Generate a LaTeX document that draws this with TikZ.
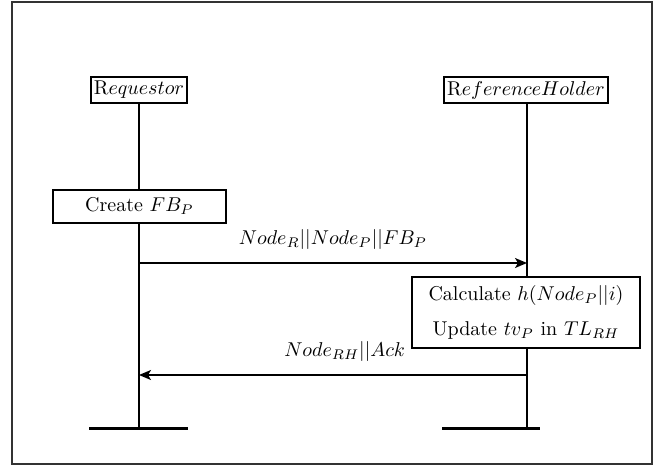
\documentclass[tikz,border=0pt]{standalone}
\usetikzlibrary{positioning,arrows.meta}

\begin{document}
\begin{tikzpicture}[x=0.5pt,y=-0.5pt,
    actor/.style={draw,line width=1pt,inner sep=1.5pt,minimum height=13pt},
    task/.style={draw,line width=1pt,align=center},
    life/.style={line width=1.4pt},
    bar/.style={line width=1.5pt},
    msg/.style={line width=0.8pt,-{Stealth[length=6pt,width=5pt,inset=1.5pt]}}]
    \useasboundingbox (0,0) rectangle (665,471);
    \draw[black!80,line width=1.1pt] (12,2) rectangle (652,464);

    % participants
    \node[actor] (req) at (139,90) {R$equestor$};
    \node[actor] (rh) at (526,90) {R$eferenceHolder$};

    % activities
    \node[task,minimum width=86.5pt,minimum height=16.5pt] (create) at (139.5,206) {Create $FB_P$};
    \node[task,minimum width=114pt,minimum height=35.5pt] (calc) at (526,312)
        {Calculate $h(Node_P||i)$\\[5.5pt] Update $tv_P$ in $TL_{RH}$};

    % lifelines
    \coordinate (reqend) at (139,428);
    \coordinate (rhend) at (527,428);
    \draw[life] (req.south -| reqend) -- (create.north -| reqend);
    \draw[life] (create.south -| reqend) -- (reqend);
    \draw[life] (rh.south -| rhend) -- (calc.north -| rhend);
    \draw[life] (calc.south -| rhend) -- (rhend);
    \draw[bar] (89,428) -- (188,428);
    \draw[bar] (442,428) -- (540,428);

    % messages
    \coordinate (m1s) at (139,263);
    \coordinate (m1e) at (527,263);
    \coordinate (m2s) at (527,375);
    \coordinate (m2e) at (139,375);
    \draw[msg] (m1s) -- node[above=3pt] {$Node_R||Node_P||FB_P$} (m1e);
    \draw[msg] (m2s) -- node[pos=0.47,above=3pt] {$Node_{RH}||Ack$} (m2e);
\end{tikzpicture}
\end{document}
